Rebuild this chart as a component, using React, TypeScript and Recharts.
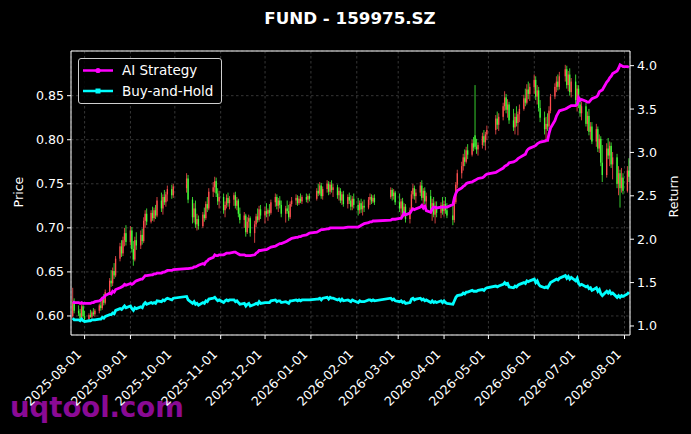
import React from 'react';
import { ComposedChart, Bar, Line, XAxis, YAxis, CartesianGrid, Legend } from 'recharts';

const FONT = '"DejaVu Sans", Verdana, sans-serif';
const W = 691;
const H = 434;
const RED = '#ff4f4f';
const GREEN = '#45ff3a';
const MAGENTA = '#ff00ff';
const CYAN = '#00ffff';

const months = ['2025-07', '2025-08', '2025-09', '2025-10', '2025-11', '2025-12', '2026-01', '2026-02', '2026-03', '2026-04', '2026-05', '2026-06', '2026-07', '2026-08'];

const tradingDays = [
  [24, 25, 28, 29, 30, 31],
  [1, 4, 5, 6, 7, 8, 11, 12, 13, 14, 15, 18, 19, 20, 21, 22, 25, 26, 27, 28, 29],
  [1, 2, 3, 4, 5, 8, 9, 10, 11, 12, 15, 16, 17, 18, 19, 22, 23, 24, 25, 26, 29, 30],
  [9, 10, 13, 14, 15, 16, 17, 20, 21, 22, 23, 24, 27, 28, 29, 30, 31],
  [3, 4, 5, 6, 7, 10, 11, 12, 13, 14, 17, 18, 19, 20, 21, 24, 25, 26, 27, 28],
  [1, 2, 3, 4, 5, 8, 9, 10, 11, 12, 15, 16, 17, 18, 19, 22, 23, 24, 25, 26, 29, 30, 31],
  [5, 6, 7, 8, 9, 12, 13, 14, 15, 16, 19, 20, 21, 22, 23, 26, 27, 28, 29, 30],
  [2, 3, 4, 5, 6, 9, 10, 11, 12, 13, 24, 25, 26, 27],
  [2, 3, 4, 5, 6, 9, 10, 11, 12, 13, 16, 17, 18, 19, 20, 23, 24, 25, 26, 27, 30, 31],
  [1, 2, 3, 7, 8, 9, 10, 13, 14, 15, 16, 17, 20, 21, 22, 23, 24, 27, 28, 29, 30],
  [6, 7, 8, 11, 12, 13, 14, 15, 18, 19, 20, 21, 22, 25, 26, 27, 28, 29],
  [1, 2, 3, 4, 5, 8, 9, 10, 11, 12, 15, 16, 17, 18, 22, 23, 24, 25, 26, 29, 30],
  [1, 2, 3, 6, 7, 8, 9, 10, 13, 14, 15, 16, 17, 20, 21, 22, 23, 24, 27, 28, 29, 30, 31],
  [3, 4],
];

const opens = [
  [0.600, 0.615, 0.606, 0.603, 0.597, 0.611],
  [0.600, 0.596, 0.601, 0.599, 0.604, 0.602, 0.606, 0.612, 0.609, 0.619, 0.615, 0.627, 0.640, 0.637, 0.651, 0.646, 0.665, 0.679, 0.671, 0.686, 0.694],
  [0.684, 0.697, 0.676, 0.664, 0.686, 0.680, 0.692, 0.685, 0.708, 0.716, 0.707, 0.717, 0.711, 0.720, 0.714, 0.731, 0.722, 0.735, 0.729, 0.738, 0.744, 0.737],
  [0.745, 0.756, 0.732, 0.712, 0.722, 0.704, 0.710, 0.702, 0.715, 0.711, 0.727, 0.722, 0.741, 0.746, 0.753, 0.739, 0.730],
  [0.735, 0.720, 0.726, 0.734, 0.728, 0.732, 0.737, 0.725, 0.731, 0.716, 0.709, 0.714, 0.695, 0.707, 0.711, 0.694, 0.704, 0.713, 0.709, 0.721],
  [0.714, 0.719, 0.716, 0.720, 0.717, 0.729, 0.735, 0.725, 0.731, 0.726, 0.716, 0.722, 0.719, 0.712, 0.727, 0.731, 0.734, 0.728, 0.733, 0.730, 0.735, 0.732, 0.736],
  [0.733, 0.742, 0.739, 0.748, 0.736, 0.744, 0.750, 0.741, 0.749, 0.743, 0.746, 0.737, 0.742, 0.731, 0.738, 0.727, 0.735, 0.731, 0.724, 0.733],
  [0.726, 0.720, 0.728, 0.721, 0.725, 0.723, 0.732, 0.735, 0.730, 0.734, 0.735, 0.743, 0.736, 0.740],
  [0.729, 0.722, 0.730, 0.717, 0.724, 0.710, 0.720, 0.738, 0.745, 0.736, 0.740, 0.748, 0.734, 0.742, 0.730, 0.736, 0.719, 0.728, 0.715, 0.724, 0.717, 0.726],
  [0.719, 0.727, 0.720, 0.714, 0.709, 0.729, 0.749, 0.762, 0.770, 0.780, 0.775, 0.788, 0.783, 0.796, 0.805, 0.792, 0.789, 0.794, 0.804, 0.797, 0.806],
  [0.811, 0.824, 0.817, 0.826, 0.838, 0.848, 0.834, 0.840, 0.822, 0.814, 0.826, 0.819, 0.829, 0.835, 0.847, 0.842, 0.857, 0.852],
  [0.860, 0.868, 0.849, 0.856, 0.836, 0.825, 0.812, 0.818, 0.815, 0.833, 0.849, 0.860, 0.866, 0.860, 0.872, 0.880, 0.862, 0.874, 0.854, 0.866, 0.845],
  [0.858, 0.840, 0.830, 0.838, 0.818, 0.827, 0.809, 0.815, 0.798, 0.812, 0.790, 0.801, 0.774, 0.760, 0.790, 0.782, 0.793, 0.772, 0.780, 0.750, 0.762, 0.745, 0.757],
  [0.742, 0.765],
];

const highs = [
  [0.632, 0.620, 0.612, 0.608, 0.615, 0.614],
  [0.606, 0.603, 0.607, 0.606, 0.609, 0.608, 0.614, 0.617, 0.622, 0.625, 0.630, 0.643, 0.652, 0.655, 0.660, 0.668, 0.683, 0.686, 0.690, 0.700, 0.703],
  [0.702, 0.701, 0.685, 0.690, 0.695, 0.697, 0.699, 0.712, 0.720, 0.722, 0.720, 0.724, 0.723, 0.726, 0.735, 0.740, 0.738, 0.743, 0.741, 0.748, 0.749, 0.750],
  [0.762, 0.760, 0.735, 0.728, 0.731, 0.716, 0.714, 0.718, 0.723, 0.730, 0.735, 0.745, 0.752, 0.758, 0.757, 0.745, 0.742],
  [0.739, 0.730, 0.738, 0.740, 0.736, 0.740, 0.741, 0.735, 0.733, 0.723, 0.718, 0.716, 0.712, 0.715, 0.713, 0.708, 0.716, 0.722, 0.725, 0.726],
  [0.724, 0.728, 0.722, 0.727, 0.732, 0.739, 0.738, 0.734, 0.736, 0.731, 0.725, 0.731, 0.726, 0.730, 0.735, 0.738, 0.737, 0.736, 0.739, 0.737, 0.739, 0.738, 0.739],
  [0.745, 0.750, 0.752, 0.751, 0.747, 0.754, 0.753, 0.752, 0.754, 0.750, 0.749, 0.746, 0.745, 0.741, 0.742, 0.738, 0.740, 0.737, 0.736, 0.739],
  [0.734, 0.731, 0.733, 0.730, 0.732, 0.735, 0.739, 0.738, 0.737, 0.738, 0.746, 0.745, 0.744, 0.742],
  [0.739, 0.733, 0.734, 0.728, 0.727, 0.723, 0.742, 0.750, 0.748, 0.744, 0.752, 0.754, 0.745, 0.746, 0.740, 0.743, 0.733, 0.735, 0.730, 0.730, 0.729, 0.735],
  [0.731, 0.735, 0.728, 0.725, 0.732, 0.752, 0.766, 0.775, 0.784, 0.789, 0.792, 0.795, 0.800, 0.803, 0.862, 0.801, 0.797, 0.808, 0.811, 0.809, 0.816],
  [0.828, 0.832, 0.830, 0.842, 0.855, 0.852, 0.846, 0.843, 0.835, 0.830, 0.838, 0.832, 0.840, 0.851, 0.858, 0.863, 0.866, 0.864],
  [0.874, 0.872, 0.862, 0.860, 0.845, 0.832, 0.826, 0.830, 0.838, 0.852, 0.864, 0.872, 0.874, 0.877, 0.885, 0.884, 0.878, 0.881, 0.870, 0.874, 0.862],
  [0.862, 0.848, 0.843, 0.842, 0.832, 0.835, 0.820, 0.820, 0.818, 0.815, 0.806, 0.804, 0.794, 0.796, 0.802, 0.798, 0.797, 0.786, 0.784, 0.770, 0.766, 0.768, 0.762],
  [0.770, 0.779],
];

const lows = [
  [0.598, 0.603, 0.600, 0.594, 0.596, 0.598],
  [0.592, 0.594, 0.598, 0.597, 0.600, 0.599, 0.603, 0.606, 0.607, 0.612, 0.613, 0.624, 0.633, 0.634, 0.642, 0.644, 0.662, 0.667, 0.668, 0.679, 0.680],
  [0.680, 0.672, 0.657, 0.662, 0.675, 0.676, 0.681, 0.683, 0.700, 0.703, 0.705, 0.708, 0.707, 0.710, 0.712, 0.718, 0.715, 0.726, 0.724, 0.730, 0.733, 0.734],
  [0.740, 0.728, 0.705, 0.706, 0.700, 0.697, 0.698, 0.700, 0.707, 0.709, 0.718, 0.720, 0.735, 0.740, 0.735, 0.726, 0.722],
  [0.716, 0.712, 0.722, 0.724, 0.721, 0.725, 0.722, 0.720, 0.712, 0.705, 0.700, 0.690, 0.693, 0.700, 0.690, 0.683, 0.701, 0.706, 0.707, 0.710],
  [0.705, 0.712, 0.708, 0.713, 0.715, 0.724, 0.721, 0.718, 0.722, 0.712, 0.706, 0.716, 0.708, 0.710, 0.724, 0.726, 0.725, 0.726, 0.728, 0.727, 0.729, 0.728, 0.730],
  [0.731, 0.736, 0.737, 0.733, 0.732, 0.740, 0.737, 0.738, 0.740, 0.735, 0.733, 0.731, 0.728, 0.726, 0.724, 0.722, 0.727, 0.720, 0.720, 0.722],
  [0.714, 0.716, 0.717, 0.714, 0.718, 0.721, 0.726, 0.727, 0.728, 0.726, 0.733, 0.731, 0.732, 0.726],
  [0.718, 0.712, 0.714, 0.712, 0.706, 0.705, 0.718, 0.733, 0.732, 0.728, 0.736, 0.731, 0.724, 0.727, 0.723, 0.716, 0.708, 0.712, 0.705, 0.712, 0.711, 0.715],
  [0.713, 0.716, 0.711, 0.703, 0.706, 0.727, 0.745, 0.756, 0.765, 0.770, 0.773, 0.778, 0.781, 0.787, 0.789, 0.784, 0.782, 0.790, 0.793, 0.788, 0.800],
  [0.806, 0.812, 0.810, 0.822, 0.833, 0.830, 0.825, 0.818, 0.810, 0.806, 0.815, 0.805, 0.820, 0.833, 0.838, 0.840, 0.846, 0.844],
  [0.852, 0.845, 0.840, 0.832, 0.820, 0.806, 0.797, 0.810, 0.812, 0.830, 0.846, 0.854, 0.856, 0.857, 0.866, 0.858, 0.855, 0.850, 0.848, 0.840, 0.832],
  [0.836, 0.826, 0.822, 0.815, 0.810, 0.805, 0.800, 0.795, 0.792, 0.786, 0.785, 0.770, 0.752, 0.757, 0.778, 0.770, 0.768, 0.755, 0.745, 0.737, 0.723, 0.740, 0.738],
  [0.740, 0.752],
];

const closes = [
  [0.615, 0.606, 0.603, 0.597, 0.611, 0.600],
  [0.596, 0.601, 0.599, 0.604, 0.602, 0.606, 0.612, 0.609, 0.619, 0.615, 0.627, 0.640, 0.637, 0.651, 0.646, 0.665, 0.679, 0.671, 0.686, 0.694, 0.684],
  [0.697, 0.676, 0.664, 0.686, 0.680, 0.692, 0.685, 0.708, 0.716, 0.707, 0.717, 0.711, 0.720, 0.714, 0.731, 0.722, 0.735, 0.729, 0.738, 0.744, 0.737, 0.747],
  [0.756, 0.732, 0.712, 0.722, 0.704, 0.710, 0.702, 0.715, 0.711, 0.727, 0.722, 0.741, 0.746, 0.753, 0.739, 0.730, 0.735],
  [0.720, 0.726, 0.734, 0.728, 0.732, 0.737, 0.725, 0.731, 0.716, 0.709, 0.714, 0.695, 0.707, 0.711, 0.694, 0.704, 0.713, 0.709, 0.721, 0.714],
  [0.719, 0.716, 0.720, 0.717, 0.729, 0.735, 0.725, 0.731, 0.726, 0.716, 0.722, 0.719, 0.712, 0.727, 0.731, 0.734, 0.728, 0.733, 0.730, 0.735, 0.732, 0.736, 0.733],
  [0.742, 0.739, 0.748, 0.736, 0.744, 0.750, 0.741, 0.749, 0.743, 0.746, 0.737, 0.742, 0.731, 0.738, 0.727, 0.735, 0.731, 0.724, 0.733, 0.726],
  [0.720, 0.728, 0.721, 0.725, 0.723, 0.732, 0.735, 0.730, 0.734, 0.729, 0.743, 0.736, 0.740, 0.729],
  [0.722, 0.730, 0.717, 0.724, 0.710, 0.720, 0.738, 0.745, 0.736, 0.740, 0.748, 0.734, 0.742, 0.730, 0.736, 0.719, 0.728, 0.715, 0.724, 0.717, 0.726, 0.719],
  [0.727, 0.720, 0.714, 0.709, 0.729, 0.749, 0.762, 0.770, 0.780, 0.775, 0.788, 0.783, 0.796, 0.791, 0.792, 0.789, 0.794, 0.804, 0.797, 0.806, 0.811],
  [0.824, 0.817, 0.826, 0.838, 0.848, 0.834, 0.840, 0.822, 0.814, 0.826, 0.819, 0.829, 0.835, 0.847, 0.842, 0.857, 0.852, 0.860],
  [0.868, 0.849, 0.856, 0.836, 0.825, 0.812, 0.818, 0.815, 0.833, 0.849, 0.860, 0.866, 0.860, 0.872, 0.880, 0.862, 0.874, 0.854, 0.866, 0.845, 0.858],
  [0.840, 0.830, 0.838, 0.818, 0.827, 0.809, 0.815, 0.798, 0.812, 0.790, 0.801, 0.774, 0.760, 0.790, 0.782, 0.793, 0.772, 0.780, 0.750, 0.762, 0.745, 0.757, 0.742],
  [0.765, 0.758],
];

const aiReturn = [
  [1.28, 1.27, 1.27, 1.26, 1.27, 1.26],
  [1.26, 1.26, 1.26, 1.27, 1.27, 1.28, 1.29, 1.30, 1.32, 1.33, 1.35, 1.38, 1.37, 1.40, 1.39, 1.42, 1.44, 1.45, 1.46, 1.48, 1.47],
  [1.49, 1.48, 1.49, 1.51, 1.52, 1.54, 1.54, 1.56, 1.58, 1.58, 1.59, 1.59, 1.60, 1.60, 1.61, 1.61, 1.62, 1.62, 1.63, 1.64, 1.64, 1.65],
  [1.66, 1.66, 1.67, 1.68, 1.68, 1.69, 1.70, 1.72, 1.71, 1.74, 1.75, 1.77, 1.79, 1.82, 1.81, 1.81, 1.82],
  [1.82, 1.83, 1.84, 1.84, 1.84, 1.85, 1.85, 1.84, 1.83, 1.82, 1.82, 1.81, 1.81, 1.81, 1.81, 1.82, 1.84, 1.85, 1.87, 1.87],
  [1.88, 1.88, 1.89, 1.90, 1.91, 1.92, 1.93, 1.94, 1.95, 1.95, 1.97, 1.98, 1.99, 2.00, 2.01, 2.02, 2.02, 2.03, 2.03, 2.04, 2.05, 2.06, 2.07],
  [2.08, 2.09, 2.10, 2.11, 2.11, 2.12, 2.12, 2.13, 2.13, 2.13, 2.13, 2.13, 2.13, 2.13, 2.13, 2.14, 2.14, 2.14, 2.14, 2.14],
  [2.14, 2.15, 2.16, 2.17, 2.18, 2.19, 2.20, 2.20, 2.21, 2.21, 2.22, 2.23, 2.23, 2.23],
  [2.24, 2.24, 2.27, 2.30, 2.28, 2.30, 2.33, 2.35, 2.34, 2.35, 2.37, 2.39, 2.36, 2.38, 2.33, 2.31, 2.35, 2.37, 2.37, 2.36, 2.37, 2.37],
  [2.37, 2.37, 2.37, 2.40, 2.48, 2.53, 2.56, 2.59, 2.61, 2.62, 2.64, 2.65, 2.66, 2.67, 2.68, 2.69, 2.70, 2.71, 2.72, 2.74, 2.75],
  [2.77, 2.78, 2.79, 2.82, 2.84, 2.85, 2.86, 2.88, 2.89, 2.90, 2.91, 2.93, 2.94, 2.97, 2.98, 3.02, 3.04, 3.05],
  [3.07, 3.08, 3.10, 3.11, 3.12, 3.13, 3.14, 3.14, 3.22, 3.28, 3.37, 3.42, 3.45, 3.48, 3.50, 3.51, 3.52, 3.53, 3.54, 3.54, 3.55],
  [3.63, 3.60, 3.61, 3.59, 3.58, 3.58, 3.60, 3.62, 3.64, 3.66, 3.70, 3.71, 3.72, 3.81, 3.83, 3.86, 3.88, 3.91, 3.94, 3.97, 4.01, 4.00, 3.99],
  [3.99, 3.98],
];

const bhReturn = [
  [1.09, 1.07, 1.07, 1.06, 1.08, 1.06],
  [1.05, 1.06, 1.06, 1.07, 1.07, 1.07, 1.08, 1.08, 1.10, 1.09, 1.11, 1.13, 1.13, 1.15, 1.14, 1.18, 1.20, 1.19, 1.21, 1.23, 1.21],
  [1.23, 1.20, 1.18, 1.21, 1.20, 1.22, 1.21, 1.25, 1.27, 1.25, 1.27, 1.26, 1.27, 1.26, 1.29, 1.28, 1.30, 1.29, 1.31, 1.32, 1.30, 1.32],
  [1.34, 1.30, 1.26, 1.28, 1.25, 1.26, 1.24, 1.27, 1.26, 1.29, 1.28, 1.31, 1.32, 1.33, 1.31, 1.29, 1.30],
  [1.27, 1.29, 1.30, 1.29, 1.30, 1.30, 1.28, 1.29, 1.27, 1.25, 1.26, 1.23, 1.25, 1.26, 1.23, 1.25, 1.26, 1.25, 1.28, 1.26],
  [1.27, 1.27, 1.27, 1.27, 1.29, 1.30, 1.28, 1.29, 1.29, 1.27, 1.28, 1.27, 1.26, 1.29, 1.29, 1.30, 1.29, 1.30, 1.29, 1.30, 1.30, 1.30, 1.30],
  [1.31, 1.31, 1.32, 1.30, 1.32, 1.33, 1.31, 1.33, 1.32, 1.32, 1.30, 1.31, 1.29, 1.31, 1.29, 1.30, 1.29, 1.28, 1.30, 1.29],
  [1.27, 1.29, 1.28, 1.28, 1.28, 1.30, 1.30, 1.29, 1.30, 1.29, 1.32, 1.30, 1.31, 1.29],
  [1.28, 1.29, 1.27, 1.28, 1.26, 1.27, 1.31, 1.32, 1.30, 1.31, 1.32, 1.30, 1.31, 1.29, 1.30, 1.27, 1.29, 1.27, 1.28, 1.27, 1.29, 1.27],
  [1.29, 1.27, 1.26, 1.25, 1.29, 1.33, 1.35, 1.36, 1.38, 1.37, 1.39, 1.39, 1.41, 1.40, 1.40, 1.40, 1.41, 1.42, 1.41, 1.43, 1.44],
  [1.46, 1.45, 1.46, 1.48, 1.50, 1.48, 1.49, 1.45, 1.44, 1.46, 1.45, 1.47, 1.48, 1.50, 1.49, 1.52, 1.51, 1.52],
  [1.54, 1.50, 1.52, 1.48, 1.46, 1.44, 1.45, 1.44, 1.47, 1.50, 1.53, 1.54, 1.53, 1.55, 1.58, 1.55, 1.57, 1.54, 1.56, 1.52, 1.55],
  [1.49, 1.47, 1.48, 1.45, 1.46, 1.43, 1.44, 1.41, 1.44, 1.40, 1.42, 1.37, 1.35, 1.40, 1.38, 1.40, 1.37, 1.38, 1.33, 1.35, 1.33, 1.35, 1.34],
  [1.37, 1.39],
];

const xTickLabels = ['2025-08-01', '2025-09-01', '2025-10-01', '2025-11-01', '2025-12-01', '2026-01-01', '2026-02-01', '2026-03-01', '2026-04-01', '2026-05-01', '2026-06-01', '2026-07-01', '2026-08-01'];
const priceTicks = [0.6, 0.65, 0.7, 0.75, 0.8, 0.85];
const returnTicks = [1.0, 1.5, 2.0, 2.5, 3.0, 3.5, 4.0];

const rows: any[] = [];
months.forEach((m, mi) => {
  const [yy, mm] = m.split('-').map(Number);
  tradingDays[mi].forEach((d, di) => {
    rows.push({
      t: Date.UTC(yy, mm - 1, d),
      open: opens[mi][di],
      high: highs[mi][di],
      low: lows[mi][di],
      close: closes[mi][di],
      range: [lows[mi][di], highs[mi][di]],
      ai: aiReturn[mi][di],
      bh: bhReturn[mi][di],
    });
  });
});

const xTicks = xTickLabels.map((s) => Date.parse(s));
const X_DOMAIN = [Date.UTC(2025, 6, 22, 19, 25), Date.UTC(2026, 7, 4, 17, 0)];

const fmtDate = (v: number) => new Date(v).toISOString().slice(0, 10);

const Candle = (props: any) => {
  const { x, y, width, height, payload } = props;
  if (x == null || y == null || !payload) return null;
  const top = Math.min(y, y + height);
  const h = Math.abs(height);
  const { open, close, high, low } = payload;
  const span = high - low || 1e-9;
  const ppu = h / span;
  const cx = x + width / 2;
  const color = close >= open ? RED : GREEN;
  const bTop = top + (high - Math.max(open, close)) * ppu;
  const bH = Math.max(Math.abs(open - close) * ppu, 0.8);
  return (
    <g>
      <line x1={cx} x2={cx} y1={top} y2={top + h} stroke={color} strokeWidth={0.8} />
      <rect x={cx - 0.65} y={bTop} width={1.3} height={bH} fill={color} />
    </g>
  );
};

const XTick = (props: any) => {
  const { x, y, payload } = props;
  const px = x - 2.5;
  const py = y + 14;
  return (
    <text x={px} y={py} transform={`rotate(-45 ${px} ${py})`} textAnchor="end" fill="#ffffff" fontSize={12.6} fontFamily={FONT}>
      {fmtDate(payload.value)}
    </text>
  );
};

const LegendBox = () => (
  <div
    style={{
      width: 144,
      height: 46,
      boxSizing: 'border-box',
      border: '1px solid #cfcfcf',
      borderRadius: 3,
      background: 'rgba(0,0,0,0.85)',
      position: 'relative',
    }}
  >
    <svg width={144} height={46} style={{ position: 'absolute', left: -1, top: -1 }}>
      <line x1={5} x2={35} y1={12.5} y2={12.5} stroke={MAGENTA} strokeWidth={2.5} />
      <circle cx={20} cy={12.5} r={2.6} fill={MAGENTA} />
      <text x={44} y={17} fill="#ffffff" fontSize={13.5} fontFamily={FONT}>AI Strategy</text>
      <line x1={5} x2={35} y1={33} y2={33} stroke={CYAN} strokeWidth={2.5} />
      <rect x={17.5} y={30.5} width={5} height={5} fill={CYAN} />
      <text x={44} y={37.5} fill="#ffffff" fontSize={13.5} fontFamily={FONT}>Buy-and-Hold</text>
    </svg>
  </div>
);

export default function App() {
  return (
    <div style={{ position: 'relative', width: W, height: H, background: '#000000', overflow: 'hidden' }}>
      <style>{'body{margin:0;background:#000;}'}</style>
      <svg width={W} height={H} style={{ position: 'absolute', left: 0, top: 0 }}>
        <text x={10} y={417} fill="#8a0a94" fontSize={27.5} fontWeight="bold" fontFamily={FONT}>uqtool.com</text>
      </svg>
      <div style={{ position: 'absolute', left: 0, top: 0 }}>
        <ComposedChart width={W} height={H} data={rows} margin={{ top: 51, right: 0, bottom: 0, left: 0 }}>
          <CartesianGrid xAxisId="x" yAxisId="left" stroke="#5a5a5a" strokeWidth={0.6} strokeDasharray="2.5 2.5" />
          <XAxis
            xAxisId="x"
            dataKey="t"
            type="number"
            scale="linear"
            domain={X_DOMAIN}
            allowDataOverflow
            ticks={xTicks}
            interval={0}
            height={99}
            tick={<XTick />}
            tickSize={4}
            tickLine={{ stroke: '#ffffff' }}
            axisLine={{ stroke: '#ffffff' }}
          />
          <YAxis
            yAxisId="left"
            orientation="left"
            width={71}
            type="number"
            domain={[0.5784, 0.9007]}
            allowDataOverflow
            ticks={priceTicks}
            interval={0}
            tickFormatter={(v: number) => v.toFixed(2)}
            tick={{ fill: '#ffffff', fontSize: 12.6, fontFamily: FONT }}
            tickSize={4}
            tickMargin={3}
            tickLine={{ stroke: '#ffffff' }}
            axisLine={{ stroke: '#ffffff' }}
          />
          <YAxis
            yAxisId="right"
            orientation="right"
            width={61}
            type="number"
            domain={[0.896, 4.169]}
            allowDataOverflow
            ticks={returnTicks}
            interval={0}
            tickFormatter={(v: number) => v.toFixed(1)}
            tick={{ fill: '#ffffff', fontSize: 12.6, fontFamily: FONT }}
            tickSize={4}
            tickMargin={3}
            tickLine={{ stroke: '#ffffff' }}
            axisLine={{ stroke: '#ffffff' }}
          />
          <Bar xAxisId="x" yAxisId="left" dataKey="range" barSize={2} shape={<Candle />} isAnimationActive={false} />
          <Line xAxisId="x" yAxisId="right" type="linear" dataKey="ai" stroke={MAGENTA} strokeWidth={2.8} dot={false} isAnimationActive={false} />
          <Line xAxisId="x" yAxisId="right" type="linear" dataKey="bh" stroke={CYAN} strokeWidth={2.8} dot={false} isAnimationActive={false} />
          <Legend
            layout="horizontal"
            verticalAlign="middle"
            align="center"
            content={<LegendBox />}
            wrapperStyle={{ left: 78, top: 58, width: 144, height: 46 }}
          />
        </ComposedChart>
      </div>
      <svg width={W} height={H} style={{ position: 'absolute', left: 0, top: 0, pointerEvents: 'none' }}>
        <line x1={71} x2={630} y1={51} y2={51} stroke="#ffffff" strokeWidth={1} />
        <text x={350} y={24} textAnchor="middle" fill="#ffffff" fontSize={16.7} fontWeight="bold" fontFamily={FONT}>FUND - 159975.SZ</text>
        <text x={22.5} y={192} transform="rotate(-90 22.5 192)" textAnchor="middle" fill="#ffffff" fontSize={12.6} fontFamily={FONT}>Price</text>
        <text x={678} y={196.5} transform="rotate(-90 678 196.5)" textAnchor="middle" fill="#ffffff" fontSize={12.6} fontFamily={FONT}>Return</text>
      </svg>
    </div>
  );
}
